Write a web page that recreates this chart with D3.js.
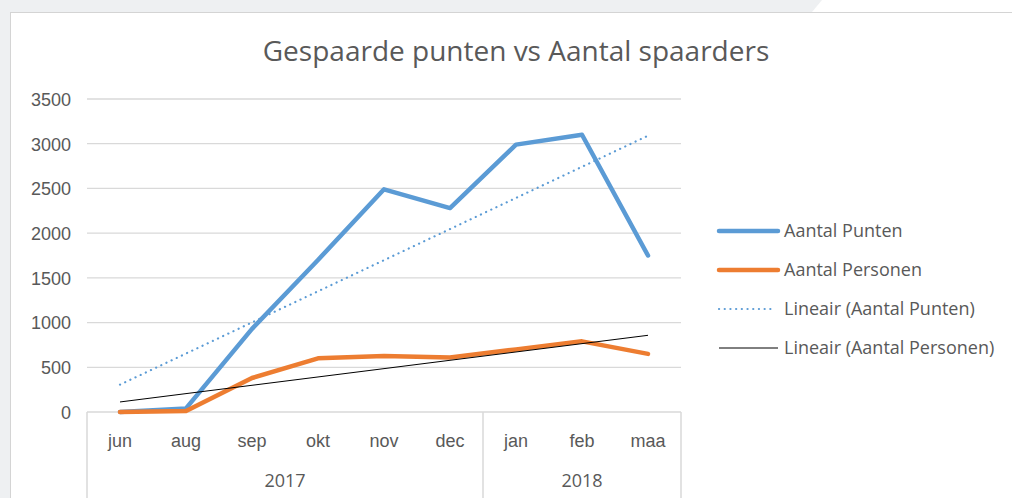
<!DOCTYPE html>
<meta charset="utf-8">
<head>
<style>
  body { margin: 0; background: #fff; }
  svg { font-family: 'Open Sans', sans-serif; display: block; }
  .grid line { stroke: #d9d9d9; stroke-width: 1.3px; }
  .tick text { fill: #595959; font-size: 18px; }
</style>
</head>
<body>
<svg width="1012" height="498"></svg>
<script src="https://d3js.org/d3.v7.min.js"></script>
<script>
// data
var months = ["jun", "aug", "sep", "okt", "nov", "dec", "jan", "feb", "maa"];
var years = [{label: "2017", from: 0, to: 6}, {label: "2018", from: 6, to: 9}];
var punten = [0, 40, 930, 1700, 2490, 2280, 2990, 3100, 1750];
var personen = [0, 10, 380, 600, 625, 610, 700, 790, 650];
var yTicks = [0, 500, 1000, 1500, 2000, 2500, 3000, 3500];

var svg = d3.select("svg"),
    width = +svg.attr("width"),
    height = +svg.attr("height");

// grey page round the chart card
svg.append("rect").attr("width", width).attr("height", height).attr("fill", "#eef0f2");
svg.append("polygon").attr("points", "822,0 1012,0 1012,12 812,12").attr("fill", "#fff");
svg.append("rect").attr("x", 10.5).attr("y", 12.5).attr("width", width).attr("height", height)
  .attr("fill", "#fff").attr("stroke", "#d4d4d4");

var x = d3.scaleBand().domain(months).range([87, 681]);
var y = d3.scaleLinear().domain([0, 3500]).range([412, 99]);

// title
svg.append("text")
  .attr("x", 516).attr("y", 61)
  .attr("text-anchor", "middle")
  .attr("fill", "#595959")
  .style("font-size", "28px")
  .text("Gespaarde punten vs Aantal spaarders");

// gridlines
svg.append("g").attr("class", "grid")
  .selectAll("line").data(yTicks.slice(1)).enter().append("line")
  .attr("x1", 87).attr("x2", 681)
  .attr("y1", d => y(d)).attr("y2", d => y(d));

// y axis labels
svg.append("g")
  .attr("transform", "translate(71,0)")
  .call(d3.axisLeft(y).tickValues(yTicks).tickFormat(d3.format("d")).tickSize(0).tickPadding(0))
  .call(g => g.select(".domain").remove())
  .selectAll("text").attr("dy", "0.35em");

// x axis: month row
var xAxis = svg.append("g")
  .attr("transform", "translate(0,412)")
  .call(d3.axisBottom(x).tickSize(0).tickPadding(0))
  .call(g => g.select(".domain").remove());
xAxis.selectAll("text").attr("y", 35).attr("dy", null);

svg.append("line").attr("x1", 87).attr("x2", 681).attr("y1", 412).attr("y2", 412)
  .attr("stroke", "#d9d9d9").attr("stroke-width", 1.5);

// year row + group separators
var bounds = [0, 6, 9];
svg.selectAll(".sep").data(bounds).enter().append("line")
  .attr("x1", d => 87 + d * x.step()).attr("x2", d => 87 + d * x.step())
  .attr("y1", 412).attr("y2", height)
  .attr("stroke", "#d9d9d9").attr("stroke-width", 1.5);

svg.selectAll(".year").data(years).enter().append("text")
  .attr("x", d => 87 + (d.from + d.to) / 2 * x.step())
  .attr("y", 487)
  .attr("text-anchor", "middle")
  .attr("fill", "#595959")
  .style("font-size", "18px")
  .text(d => d.label);

// linear trend (least squares, like the spreadsheet trendline)
function trend(vals) {
  var n = vals.length, mx = (n + 1) / 2, my = d3.mean(vals);
  var num = d3.sum(vals, (v, i) => (i + 1 - mx) * (v - my));
  var den = d3.sum(vals, (v, i) => (i + 1 - mx) * (i + 1 - mx));
  var b = num / den, a = my - b * mx;
  return vals.map((v, i) => a + b * (i + 1));
}

var line = d3.line()
  .x((d, i) => x(months[i]) + x.bandwidth() / 2)
  .y(d => y(d));

svg.append("path").datum(trend(punten)).attr("d", line)
  .attr("fill", "none").attr("stroke", "#5b9bd5").attr("stroke-width", 2.2)
  .attr("stroke-linecap", "round").attr("stroke-dasharray", "0.1,5.6");

svg.append("path").datum(punten).attr("d", line)
  .attr("fill", "none").attr("stroke", "#5b9bd5").attr("stroke-width", 4.5)
  .attr("stroke-linejoin", "round").attr("stroke-linecap", "round");

svg.append("path").datum(personen).attr("d", line)
  .attr("fill", "none").attr("stroke", "#ed7d31").attr("stroke-width", 4.5)
  .attr("stroke-linejoin", "round").attr("stroke-linecap", "round");

svg.append("path").datum(trend(personen)).attr("d", line)
  .attr("fill", "none").attr("stroke", "#000").attr("stroke-width", 1);

// legend
var legend = [
  {name: "Aantal Punten", color: "#5b9bd5", w: 4.5, dash: null},
  {name: "Aantal Personen", color: "#ed7d31", w: 4.5, dash: null},
  {name: "Lineair (Aantal Punten)", color: "#5b9bd5", w: 2.2, dash: "0.1,5.6"},
  {name: "Lineair (Aantal Personen)", color: "#000", w: 1, dash: null}
];
var lg = svg.selectAll(".lg").data(legend).enter().append("g")
  .attr("transform", (d, i) => "translate(0," + (231 + i * 39) + ")");
lg.append("line")
  .attr("x1", 719).attr("x2", (d, i) => i == 2 ? 774 : 778)
  .attr("stroke", d => d.color).attr("stroke-width", d => d.w)
  .attr("stroke-linecap", d => d.w > 1 ? "round" : "butt")
  .attr("stroke-dasharray", d => d.dash);
lg.append("text")
  .attr("x", 784).attr("dy", "0.35em")
  .attr("fill", "#595959").style("font-size", "18px")
  .text(d => d.name);
</script>
</body>
